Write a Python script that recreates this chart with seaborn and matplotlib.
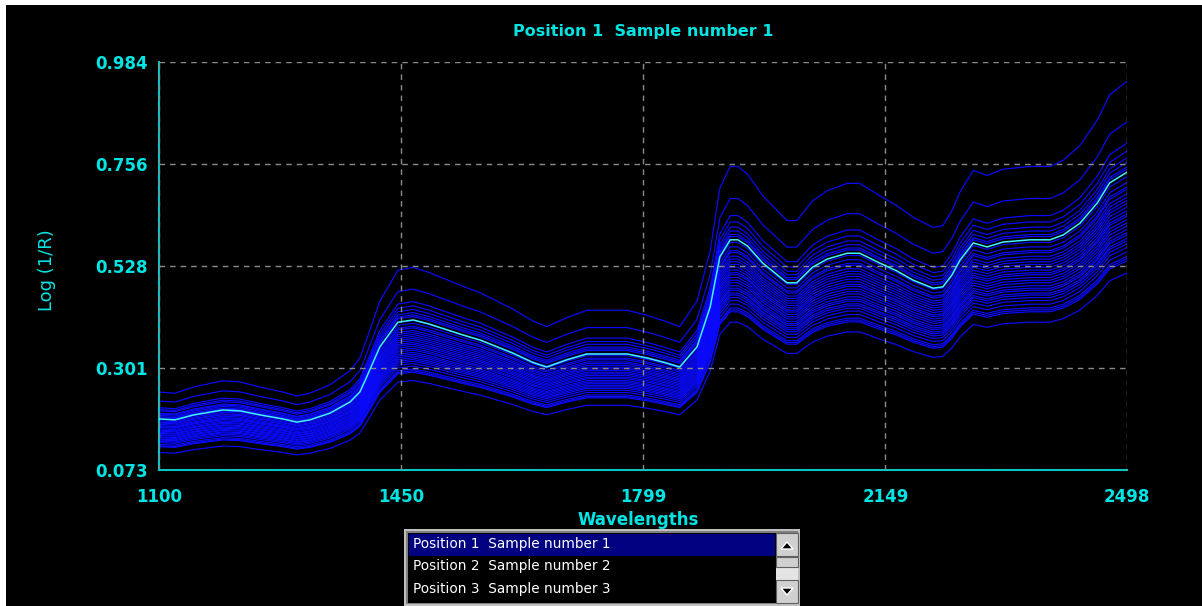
import numpy as np
import pandas as pd
import matplotlib
matplotlib.use("Agg")
import matplotlib.pyplot as plt
import seaborn as sns
from matplotlib.patches import Rectangle, Polygon

# ---------------- data ----------------
wavelengths = [1100, 1123, 1150, 1192, 1217, 1246, 1279, 1299, 1318, 1347,
               1376, 1390, 1398, 1419, 1445, 1467, 1490, 1516, 1540, 1564,
               1611, 1640, 1660, 1689, 1718, 1776, 1805, 1830, 1852, 1877,
               1896, 1910, 1925, 1936, 1950, 1972, 2007, 2021, 2044, 2065,
               2094, 2112, 2141, 2165, 2189, 2218, 2232, 2245, 2257, 2276,
               2296, 2319, 2358, 2387, 2406, 2430, 2455, 2473, 2498]

# highlighted (cyan) spectrum: Position 1 Sample number 1
selected_spectrum = [0.187, 0.185, 0.196, 0.207, 0.205, 0.196, 0.187, 0.180, 0.185, 0.200,
                     0.225, 0.247, 0.274, 0.348, 0.403, 0.408, 0.399, 0.386, 0.374, 0.363,
                     0.334, 0.313, 0.303, 0.319, 0.332, 0.332, 0.323, 0.313, 0.303, 0.348,
                     0.437, 0.549, 0.587, 0.587, 0.573, 0.535, 0.491, 0.491, 0.526, 0.544,
                     0.557, 0.557, 0.535, 0.518, 0.497, 0.479, 0.482, 0.508, 0.542, 0.580,
                     0.571, 0.582, 0.587, 0.587, 0.598, 0.624, 0.669, 0.714, 0.738]

# each other spectrum read at the two ends of the wavelength range
spectra_at_1100 = [0.247, 0.227, 0.212, 0.208, 0.205, 0.200, 0.198, 0.195, 0.192, 0.190,
                   0.186, 0.183, 0.180, 0.178, 0.175, 0.172, 0.170, 0.168, 0.165, 0.162,
                   0.160, 0.157, 0.155, 0.152, 0.150, 0.147, 0.145, 0.142, 0.140, 0.137,
                   0.134, 0.130, 0.127, 0.125, 0.112]
spectra_at_2498 = [0.941, 0.850, 0.803, 0.785, 0.770, 0.760, 0.750, 0.745, 0.728, 0.715,
                   0.705, 0.700, 0.690, 0.682, 0.675, 0.668, 0.660, 0.652, 0.645, 0.640,
                   0.632, 0.625, 0.618, 0.610, 0.603, 0.598, 0.590, 0.585, 0.578, 0.570,
                   0.560, 0.550, 0.545, 0.540, 0.513]

x_ticks = [1100, 1450, 1799, 2149, 2498]
x_tick_labels = ["1100", "1450", "1799", "2149", "2498"]
y_ticks = [0.073, 0.301, 0.528, 0.756, 0.984]
y_tick_labels = ["0.073", "0.301", "0.528", "0.756", "0.984"]

title_text = "Position 1  Sample number 1"
list_items = ["Position 1  Sample number 1",
              "Position 2  Sample number 2",
              "Position 3  Sample number 3"]

# ---------------- build long table ----------------
base = np.array(selected_spectrum)
b0, b1 = base[0], base[-1]
rows = []
for i, (lv, rv) in enumerate(zip(spectra_at_1100, spectra_at_2498)):
    gain = (rv - lv) / (b1 - b0)
    offset = lv - gain * b0
    vals = offset + gain * base
    for w, v in zip(wavelengths, vals):
        rows.append({"spectrum": i, "wavelength": w, "value": v})
df = pd.DataFrame(rows)

# ---------------- figure ----------------
sns.set_style("dark")
plt.rcParams["font.family"] = ["DejaVu Sans"]
plt.rcParams["lines.scale_dashes"] = False

W, H = 1202, 606
fig = plt.figure(figsize=(W / 100, H / 100), dpi=100)
fig.patch.set_facecolor("white")

# background / widget layer in pixel coordinates
bg = fig.add_axes([0, 0, 1, 1], zorder=-1)
bg.set_xlim(0, W)
bg.set_ylim(H, 0)
bg.axis("off")
bg.add_patch(Rectangle((6, 5), W - 6, H - 5, facecolor="black", edgecolor="none"))

CYAN = "#00e4e4"
BLUE = "#0a0aff"

ax = fig.add_axes([159 / W, 1 - 470 / H, (1127 - 159) / W, (470 - 62) / H])
ax.set_facecolor("black")

n = len(spectra_at_1100)
sns.lineplot(data=df, x="wavelength", y="value", hue="spectrum",
             palette=[BLUE] * n, legend=False, linewidth=0.85,
             estimator=None, sort=False, ax=ax, zorder=2)
sns.lineplot(x=wavelengths, y=selected_spectrum, color="#40f4ff",
             linewidth=1.1, ax=ax, zorder=4)

ax.set_xlim(1100, 2498)
ax.set_ylim(0.073, 0.984)
ax.set_xticks(x_ticks)
ax.set_xticklabels(x_tick_labels)
ax.set_yticks(y_ticks)
ax.set_yticklabels(y_tick_labels)

ax.grid(True, color="#8a8a8a", linestyle=(0, (4.0, 3.6)), linewidth=1.0, zorder=3)
ax.set_axisbelow(False)

for s in ["top", "right"]:
    ax.spines[s].set_visible(False)
for s in ["left", "bottom"]:
    ax.spines[s].set_color("#00c8c8")
    ax.spines[s].set_linewidth(1.5)

ax.tick_params(axis="both", direction="in", length=4, width=1, color="#00c8c8",
               labelcolor=CYAN, labelsize=12)
ax.tick_params(axis="y", pad=8)
ax.tick_params(axis="x", pad=13)
for lab in ax.get_xticklabels() + ax.get_yticklabels():
    lab.set_fontweight("bold")

ax.set_title(title_text, color=CYAN, fontsize=11.5, fontweight="bold", pad=19)
ax.set_xlabel("Wavelengths", color=CYAN, fontsize=12, fontweight="bold", va="center")
ax.xaxis.set_label_coords((638 - 159) / 968, -(520 - 470) / 408)
ax.set_ylabel("Log (1/R)", color=CYAN, fontsize=13, va="center")
ax.yaxis.set_label_coords((47 - 159) / 968, (470 - 270) / 408)

# ---------------- list box widget ----------------
GRAY = "#c0c0c0"
DARK = "#808080"
bg.add_patch(Rectangle((404, 529), 396, 77, facecolor=GRAY, edgecolor="none"))
bg.add_patch(Rectangle((406, 531), 392, 73, facecolor=DARK, edgecolor="none"))
bg.add_patch(Rectangle((408, 533), 368, 70, facecolor="black", edgecolor="none"))
bg.add_patch(Rectangle((409, 534), 366, 22, facecolor="#000080", edgecolor="none"))
row_y = [544, 566, 589]
for txt, yy in zip(list_items, row_y):
    bg.text(413, yy, txt, color="white", fontsize=9.8, va="center", ha="left")

# scrollbar
bg.add_patch(Rectangle((776, 533), 22, 70, facecolor="#e4e4e4", edgecolor="none"))
for (yy, hh) in [(533, 23), (557, 10), (580, 23)]:
    bg.add_patch(Rectangle((776, yy), 22, hh, facecolor="#d0d0d0", edgecolor="#606060", linewidth=0.8))
bg.add_patch(Polygon([[781, 549], [793, 549], [787, 542]], closed=True, facecolor="black"))
bg.add_patch(Polygon([[781, 588], [793, 588], [787, 595]], closed=True, facecolor="black"))

fig.savefig("out.png", dpi=100, facecolor=fig.get_facecolor())
